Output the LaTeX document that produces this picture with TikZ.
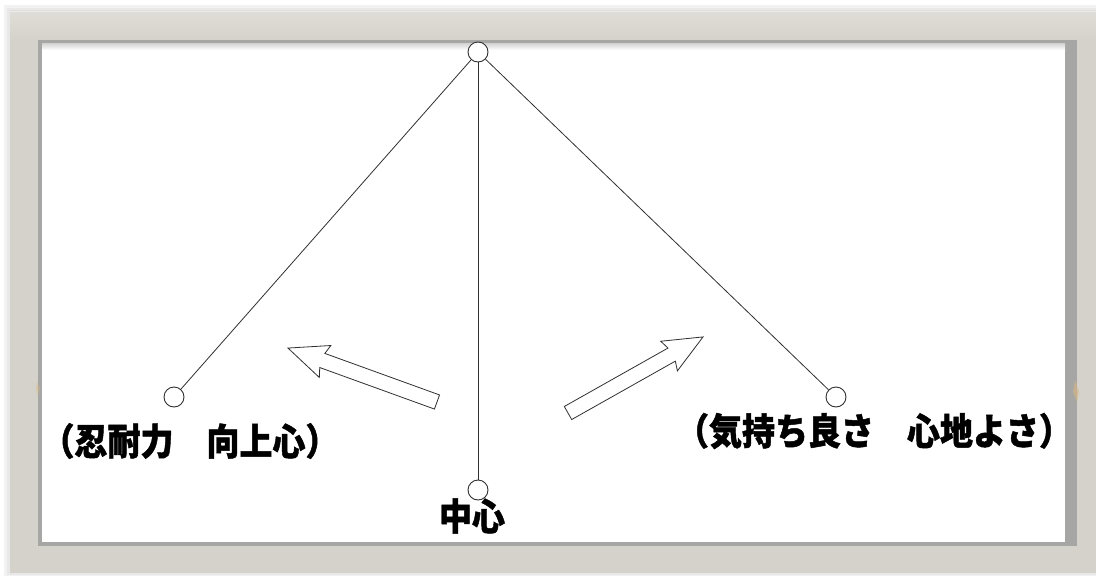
\documentclass[tikz,border=0pt]{standalone}
\usepackage{fontspec}
\newfontfamily\cjk{Noto Sans CJK JP}[BoldFeatures={FakeBold=1.3}]
\definecolor{framegray}{HTML}{D4D2CA}
\definecolor{framelight}{HTML}{E0DED8}
\definecolor{bargray}{HTML}{A6A6A4}
\definecolor{linegray}{HTML}{303030}
\definecolor{smudge}{HTML}{D9B883}
\tikzset{
  joint/.style={circle, draw=linegray, line width=0.9pt, fill=white, minimum width=20pt, minimum height=18pt, inner sep=0pt},
  rod/.style={draw=linegray, line width=0.8pt},
  label/.style={font=\cjk\bfseries\fontsize{33}{36}\selectfont, inner sep=0pt, yscale=1.12},
  blockarrow/.style={draw=linegray, line width=0.8pt, fill=white, line join=miter}
}
\begin{document}
\begin{tikzpicture}[x=1pt, y=-1pt]
\useasboundingbox (0,0) rectangle (1096,576);
\fill[white] (0,0) rectangle (1096,576);
% soft shadow
\fill[black!5] (4,5) rectangle (1096,576);
\fill[black!9] (7,8) rectangle (1096,575);
% frame
\fill[framegray] (10,10) rectangle (1096,573);
\shade[top color=framelight, bottom color=framegray] (10,10) rectangle (1096,40);
\draw[white!85!gray, line width=1pt] (10,11) -- (1096,11);
% inner panel
\fill[bargray] (38,40) rectangle (1077,546);
\fill[white] (42,43) rectangle (1065,542);
\shade[top color=black!18, bottom color=white] (42,43) rectangle (1065,50);
% small smudges on frame
\fill[smudge, opacity=0.6] (1075,380) -- (1079,392) -- (1077,402) -- (1073,392) -- cycle;
\fill[smudge, opacity=0.4] (37,382) -- (40,388) -- (38,396) -- (36,389) -- cycle;
% pendulum joints
\node[joint] (top) at (478,52) {};
\node[joint] (left) at (174,397) {};
\node[joint] (right) at (836,397) {};
\node[joint] (bottom) at (478,490) {};
\draw[rod] (top) -- (left);
\draw[rod] (top) -- (right);
\draw[rod] (top) -- (bottom);
% block arrows
\begin{scope}[shift={(437,402)}, rotate=160.1]
\draw[blockarrow] (0,-7.5) -- (122,-7.5) -- (119,-17) -- (158.5,0) -- (119,17) -- (122,7.5) -- (0,7.5) -- cycle;
\end{scope}
\begin{scope}[shift={(568,413)}, rotate=29.4]
\draw[blockarrow] (0,-7.5) -- (119,-7.5) -- (116,-17) -- (155,0) -- (116,17) -- (119,7.5) -- (0,7.5) -- cycle;
\end{scope}
% labels
\node[label] (lefttext) at (190,441) {（忍耐力　向上心）};
\node[label] (righttext) at (874,431) {（気持ち良さ　心地よさ）};
\node[label] (centertext) at (472,516) {中心};
\end{tikzpicture}
\end{document}
